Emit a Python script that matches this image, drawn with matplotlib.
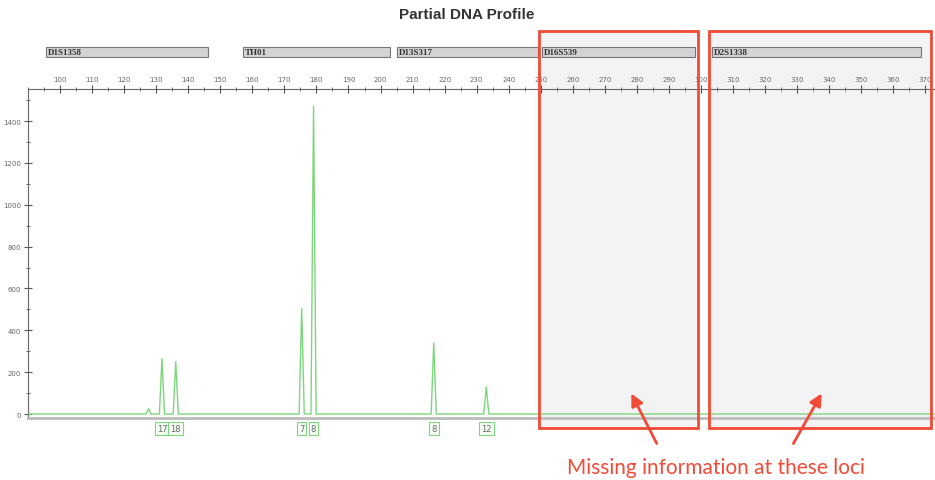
import matplotlib.pyplot as plt
from matplotlib.patches import Rectangle
from matplotlib.ticker import MultipleLocator
import matplotlib.transforms as mtransforms

# peaks: base pair size, RFU height
peak_bp = [127.6, 131.8, 136.1, 175.4, 179.1, 216.6, 233.0]
peak_rfu = [25, 265, 250, 505, 1470, 340, 130]

# allele calls shown under the trace
allele_bp = [131.8, 136.1, 175.4, 179.1, 216.6, 233.0]
allele_labels = ['17', '18', '7', '8', '8', '12']

# loci bars (name, start bp, end bp)
loci_names = ['D1S1358', 'TH01', 'D13S317', 'D16S539', 'D2S1338']
loci_start = [95.6, 157.1, 205.1, 250.3, 303.3]
loci_end = [146.1, 202.9, 249.0, 298.0, 368.5]

# loci with missing information (highlighted)
missing_start = [249.4, 302.4]
missing_end = [298.9, 371.6]

red = '#f24a36'
green = '#7dd67d'

fig = plt.figure(figsize=(9.35, 4.81), dpi=100)
ax = fig.add_axes([28 / 935, 1 - 419 / 481, 1 - 28 / 935, (419 - 90) / 481])

# build trace as triangle peaks on a flat baseline
half_w = 0.8
xs = [90.0]
ys = [0.0]
for bp, h in zip(peak_bp, peak_rfu):
    xs += [bp - half_w, bp, bp + half_w]
    ys += [0.0, h, 0.0]
xs.append(373.0)
ys.append(0.0)
ax.plot(xs, ys, color=green, lw=1.0, zorder=3)

ax.set_xlim(90, 373)
ax.set_ylim(-19, 1553)

ax.xaxis.set_major_locator(MultipleLocator(10))
ax.xaxis.set_minor_locator(MultipleLocator(5))
ax.yaxis.set_major_locator(MultipleLocator(200))
ax.yaxis.set_minor_locator(MultipleLocator(100))
ax.tick_params(axis='x', which='both', top=True, bottom=False, labeltop=True,
               labelbottom=False, direction='inout', color='#555555',
               labelsize=5, labelcolor='#666666', pad=2)
ax.tick_params(axis='x', which='major', length=6)
ax.tick_params(axis='x', which='minor', length=3)
ax.tick_params(axis='y', which='both', direction='inout', color='#555555',
               labelsize=5, labelcolor='#666666', pad=2)
ax.tick_params(axis='y', which='major', length=6)
ax.tick_params(axis='y', which='minor', length=3)
ax.set_xticks([t for t in range(100, 380, 10)])
ax.set_yticks(range(0, 1600, 200))

ax.spines['right'].set_visible(False)
ax.spines['top'].set_color('#666666')
ax.spines['left'].set_color('#666666')
ax.spines['bottom'].set_color('#bbbbbb')
ax.spines['bottom'].set_linewidth(2)

trans = mtransforms.blended_transform_factory(ax.transData, ax.transAxes)

# highlighted regions
for s, e in zip(missing_start, missing_end):
    ax.add_patch(Rectangle((s, -0.030), e - s, 1.206, transform=trans,
                           facecolor='#f3f3f3', edgecolor='none',
                           zorder=0.5, clip_on=False))
    ax.add_patch(Rectangle((s, -0.030), e - s, 1.206, transform=trans,
                           facecolor='none', edgecolor=red, lw=2,
                           zorder=6, clip_on=False))

# loci bars
for name, s, e in zip(loci_names, loci_start, loci_end):
    ax.add_patch(Rectangle((s, 1.097), e - s, 0.030, transform=trans,
                           facecolor='#d4d4d4', edgecolor='#777777', lw=0.8,
                           zorder=2, clip_on=False))
    ax.text(s + 0.6, 1.112, name, transform=trans, fontsize=6.5,
            family='Liberation Serif', fontweight='bold', color='#333333',
            va='center', ha='left', zorder=3)

# allele labels
for bp, lab in zip(allele_bp, allele_labels):
    ax.text(bp, -0.033, lab, transform=trans, fontsize=6, color='#666666',
            ha='center', va='center', clip_on=False,
            bbox=dict(boxstyle='square,pad=0.25', facecolor='#f6fff6',
                      edgecolor=green, lw=0.8))

fig.text(467 / 935, 1 - 15 / 481, 'Partial DNA Profile', ha='center',
         va='center', fontsize=11, fontweight='bold', color='#333333',
         family='Liberation Sans')

# annotation
for tail, head in [((658, 34), (630, 89)), ((792, 34), (823, 89))]:
    ax.annotate('', xy=head, xycoords='figure pixels', xytext=tail,
                textcoords='figure pixels',
                arrowprops=dict(arrowstyle='-|>', color=red, lw=2,
                                mutation_scale=18))
fig.text(716 / 935, 13 / 481, 'Missing information at these loci',
         ha='center', va='center', fontsize=15, color=red, family='Lato')

fig.savefig('out.png', dpi=100)
